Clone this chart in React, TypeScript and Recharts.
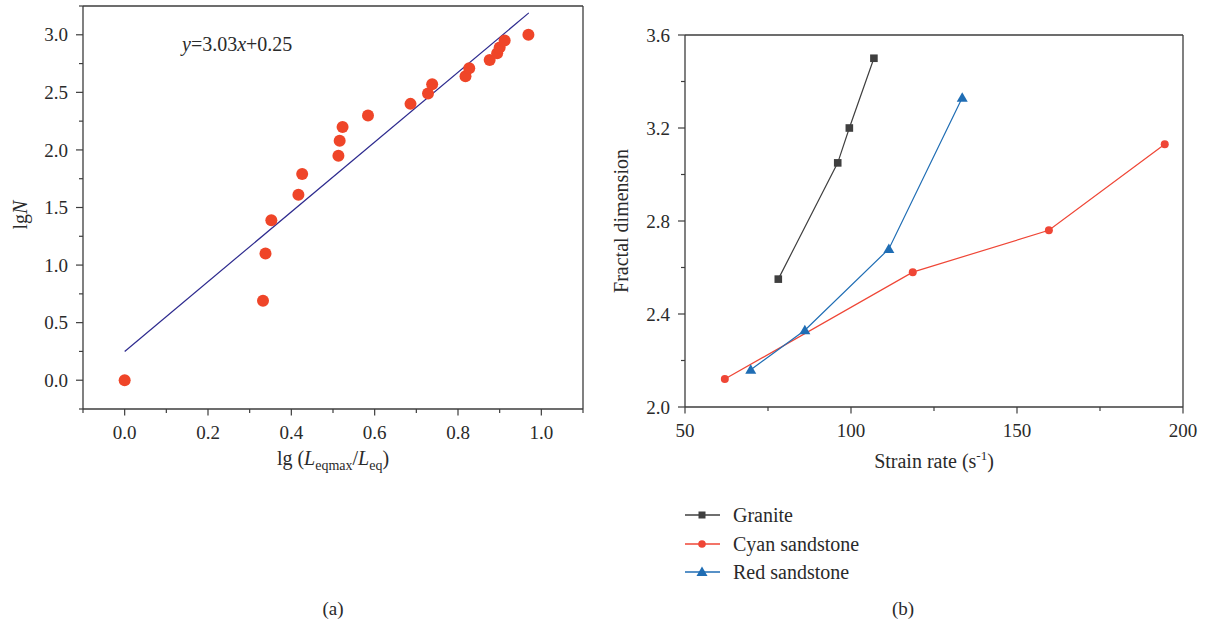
import React from 'react';
import { ComposedChart, Scatter, Line, XAxis, YAxis, ReferenceLine } from 'recharts';

// ---------- Panel (a) data ----------
const ratioLg = [0, 0.332, 0.338, 0.352, 0.417, 0.426, 0.513, 0.516, 0.523, 0.584, 0.686, 0.728, 0.738, 0.818, 0.827, 0.876, 0.894, 0.9, 0.912, 0.969];
const lgN = [0, 0.69, 1.1, 1.39, 1.61, 1.79, 1.95, 2.08, 2.2, 2.3, 2.4, 2.49, 2.57, 2.64, 2.71, 2.78, 2.84, 2.89, 2.95, 3.0];
const fitX = [0, 0.97];
const fitY = [0.25, 3.19];
const leftXTicks = [-0.1, 0, 0.1, 0.2, 0.3, 0.4, 0.5, 0.6, 0.7, 0.8, 0.9, 1.0, 1.1];
const leftXMajor = [0, 0.2, 0.4, 0.6, 0.8, 1.0];
const leftYTicks = [-0.25, 0, 0.25, 0.5, 0.75, 1.0, 1.25, 1.5, 1.75, 2.0, 2.25, 2.5, 2.75, 3.0, 3.25];
const leftYMajor = [0, 0.5, 1.0, 1.5, 2.0, 2.5, 3.0];

// ---------- Panel (b) data ----------
const graniteRate = [78.1, 96.0, 99.5, 106.9];
const graniteFD = [2.55, 3.05, 3.2, 3.5];
const cyanRate = [62.0, 118.6, 159.6, 194.5];
const cyanFD = [2.12, 2.58, 2.76, 3.13];
const redRate = [69.8, 86.1, 111.4, 133.5];
const redFD = [2.16, 2.33, 2.68, 3.33];
const rightXTicks = [50, 75, 100, 125, 150, 175, 200];
const rightXMajor = [50, 100, 150, 200];
const rightYTicks = [2.0, 2.2, 2.4, 2.6, 2.8, 3.0, 3.2, 3.4, 3.6];
const rightYMajor = [2.0, 2.4, 2.8, 3.2, 3.6];
const seriesNames = ['Granite', 'Cyan sandstone', 'Red sandstone'];

const scatterData = ratioLg.map((x, i) => ({ x, y: lgN[i] }));
const fitData = fitX.map((x, i) => ({ x, y: fitY[i] }));
const graniteData = graniteRate.map((x, i) => ({ x, y: graniteFD[i] }));
const cyanData = cyanRate.map((x, i) => ({ x, y: cyanFD[i] }));
const redData = redRate.map((x, i) => ({ x, y: redFD[i] }));

const AXIS = '#3d3d3d';
const TXT = '#2a2a2a';
const FONT = "'Liberation Serif', 'DejaVu Serif', serif";
const TS: React.CSSProperties = { fontFamily: FONT };
const GRANITE = '#3f3f3f';
const CYAN = '#ef4636';
const RED = '#1f6db4';
const DOT = '#ef4528';
const FIT = '#2d2a8e';

const isIn = (arr: number[], v: number) => arr.some((m) => Math.abs(m - v) < 1e-9);

function makeXTick(major: number[], fmt: (v: number) => string) {
  return (props: any) => {
    const { x, y, payload } = props;
    const big = isIn(major, payload.value);
    return (
      <g>
        <line x1={x} y1={y} x2={x} y2={y + (big ? 6.5 : 4)} stroke={AXIS} strokeWidth={1.2} />
        {big && (
          <text x={x} y={y + 30} textAnchor="middle" fontSize={19} fill={TXT} style={TS}>
            {fmt(payload.value)}
          </text>
        )}
      </g>
    );
  };
}

function makeYTick(major: number[], fmt: (v: number) => string) {
  return (props: any) => {
    const { x, y, payload } = props;
    const big = isIn(major, payload.value);
    return (
      <g>
        <line x1={x - (big ? 7 : 4)} y1={y} x2={x} y2={y} stroke={AXIS} strokeWidth={1.2} />
        {big && (
          <text x={x - 15} y={y} dy="0.35em" textAnchor="end" fontSize={19} fill={TXT} style={TS}>
            {fmt(payload.value)}
          </text>
        )}
      </g>
    );
  };
}

const square = (props: any) => {
  const { cx, cy, index } = props;
  return <rect key={`s${index}`} x={cx - 3.8} y={cy - 3.8} width={7.6} height={7.6} fill={GRANITE} />;
};
const circle = (props: any) => {
  const { cx, cy, index } = props;
  return <circle key={`c${index}`} cx={cx} cy={cy} r={4} fill={CYAN} />;
};
const triangle = (props: any) => {
  const { cx, cy, index } = props;
  return <polygon key={`t${index}`} points={`${cx},${cy - 5.5} ${cx - 5.5},${cy + 4} ${cx + 5.5},${cy + 4}`} fill={RED} />;
};

export default function App() {
  return (
    <div style={{ position: 'absolute', left: 0, top: 0, width: 1207, height: 629, background: '#fff', fontFamily: FONT }}>
      {/* Panel (a) */}
      <div style={{ position: 'absolute', left: 0, top: 0 }}>
        <ComposedChart width={600} height={629} margin={{ top: 6, right: 17, bottom: 180, left: 0 }}>
          <XAxis
            type="number"
            dataKey="x"
            domain={[-0.1, 1.1]}
            ticks={leftXTicks}
            interval={0}
            allowDataOverflow
            height={40}
            tickSize={0}
            tickMargin={0}
            tickLine={false}
            axisLine={{ stroke: AXIS, strokeWidth: 1.3 }}
            tick={makeXTick(leftXMajor, (v) => v.toFixed(1))}
          />
          <YAxis
            type="number"
            dataKey="y"
            domain={[-0.25, 3.25]}
            ticks={leftYTicks}
            interval={0}
            allowDataOverflow
            width={83}
            tickSize={0}
            tickMargin={0}
            tickLine={false}
            axisLine={{ stroke: AXIS, strokeWidth: 1.3 }}
            tick={makeYTick(leftYMajor, (v) => v.toFixed(1))}
          />
          <ReferenceLine y={3.25} stroke={AXIS} strokeWidth={1.3} />
          <ReferenceLine x={1.1} stroke={AXIS} strokeWidth={1.3} />
          <Line data={fitData} dataKey="y" stroke={FIT} strokeWidth={1.2} dot={false} activeDot={false} isAnimationActive={false} />
          <Scatter
            data={scatterData}
            dataKey="y"
            isAnimationActive={false}
            shape={(p: any) => <circle cx={p.cx} cy={p.cy} r={6} fill={DOT} />}
          />
          <text x={182} y={51} fontSize={20} fill={TXT} style={TS}>
            <tspan fontStyle="italic">y</tspan>=3.03<tspan fontStyle="italic">x</tspan>+0.25
          </text>
          <text transform="translate(27,215) rotate(-90)" textAnchor="middle" fontSize={20} fill={TXT} style={TS}>
            lg<tspan fontStyle="italic">N</tspan>
          </text>
          <text x={333} y={465} textAnchor="middle" fontSize={20} fill={TXT} style={TS}>
            lg (<tspan fontStyle="italic">L</tspan><tspan fontSize={14} dy={5}>eqmax</tspan><tspan dy={-5}>/</tspan><tspan fontStyle="italic">L</tspan><tspan fontSize={14} dy={5}>eq</tspan><tspan dy={-5}>)</tspan>
          </text>
          <text x={333} y={615} textAnchor="middle" fontSize={19} fill={TXT} style={TS}>
            (a)
          </text>
        </ComposedChart>
      </div>

      {/* Panel (b) */}
      <div style={{ position: 'absolute', left: 600, top: 0 }}>
        <ComposedChart width={600} height={629} margin={{ top: 35, right: 17, bottom: 182, left: 0 }}>
          <XAxis
            type="number"
            dataKey="x"
            domain={[50, 200]}
            ticks={rightXTicks}
            interval={0}
            allowDataOverflow
            height={40}
            tickSize={0}
            tickMargin={0}
            tickLine={false}
            axisLine={{ stroke: AXIS, strokeWidth: 1.3 }}
            tick={makeXTick(rightXMajor, (v) => String(v))}
          />
          <YAxis
            type="number"
            dataKey="y"
            domain={[2.0, 3.6]}
            ticks={rightYTicks}
            interval={0}
            allowDataOverflow
            width={85}
            tickSize={0}
            tickMargin={0}
            tickLine={false}
            axisLine={{ stroke: AXIS, strokeWidth: 1.3 }}
            tick={makeYTick(rightYMajor, (v) => v.toFixed(1))}
          />
          <ReferenceLine y={3.6} stroke={AXIS} strokeWidth={1.3} />
          <ReferenceLine x={200} stroke={AXIS} strokeWidth={1.3} />
          <Line data={graniteData} dataKey="y" name={seriesNames[0]} stroke={GRANITE} strokeWidth={1.2} dot={square} activeDot={false} isAnimationActive={false} />
          <Line data={cyanData} dataKey="y" name={seriesNames[1]} stroke={CYAN} strokeWidth={1.2} dot={circle} activeDot={false} isAnimationActive={false} />
          <Line data={redData} dataKey="y" name={seriesNames[2]} stroke={RED} strokeWidth={1.2} dot={triangle} activeDot={false} isAnimationActive={false} />
          <text transform="translate(28,221) rotate(-90)" textAnchor="middle" fontSize={20} fill={TXT} style={TS}>
            Fractal dimension
          </text>
          <text x={334} y={468} textAnchor="middle" fontSize={20} fill={TXT} style={TS}>
            Strain rate (s<tspan fontSize={13} dy={-8}>-1</tspan><tspan dy={8}>)</tspan>
          </text>
          {/* legend */}
          <g>
            <line x1={85} y1={515} x2={120} y2={515} stroke={GRANITE} strokeWidth={1.3} />
            <rect x={98.5} y={511.5} width={7} height={7} fill={GRANITE} />
            <text x={133} y={515} dy="0.35em" fontSize={20} fill={TXT} style={TS}>{seriesNames[0]}</text>
            <line x1={85} y1={544} x2={120} y2={544} stroke={CYAN} strokeWidth={1.3} />
            <circle cx={102} cy={544} r={3.8} fill={CYAN} />
            <text x={133} y={544} dy="0.35em" fontSize={20} fill={TXT} style={TS}>{seriesNames[1]}</text>
            <line x1={85} y1={572} x2={120} y2={572} stroke={RED} strokeWidth={1.3} />
            <polygon points="102,566.5 96.5,576 107.5,576" fill={RED} />
            <text x={133} y={572} dy="0.35em" fontSize={20} fill={TXT} style={TS}>{seriesNames[2]}</text>
          </g>
          <text x={303} y={615} textAnchor="middle" fontSize={19} fill={TXT} style={TS}>
            (b)
          </text>
        </ComposedChart>
      </div>
    </div>
  );
}
